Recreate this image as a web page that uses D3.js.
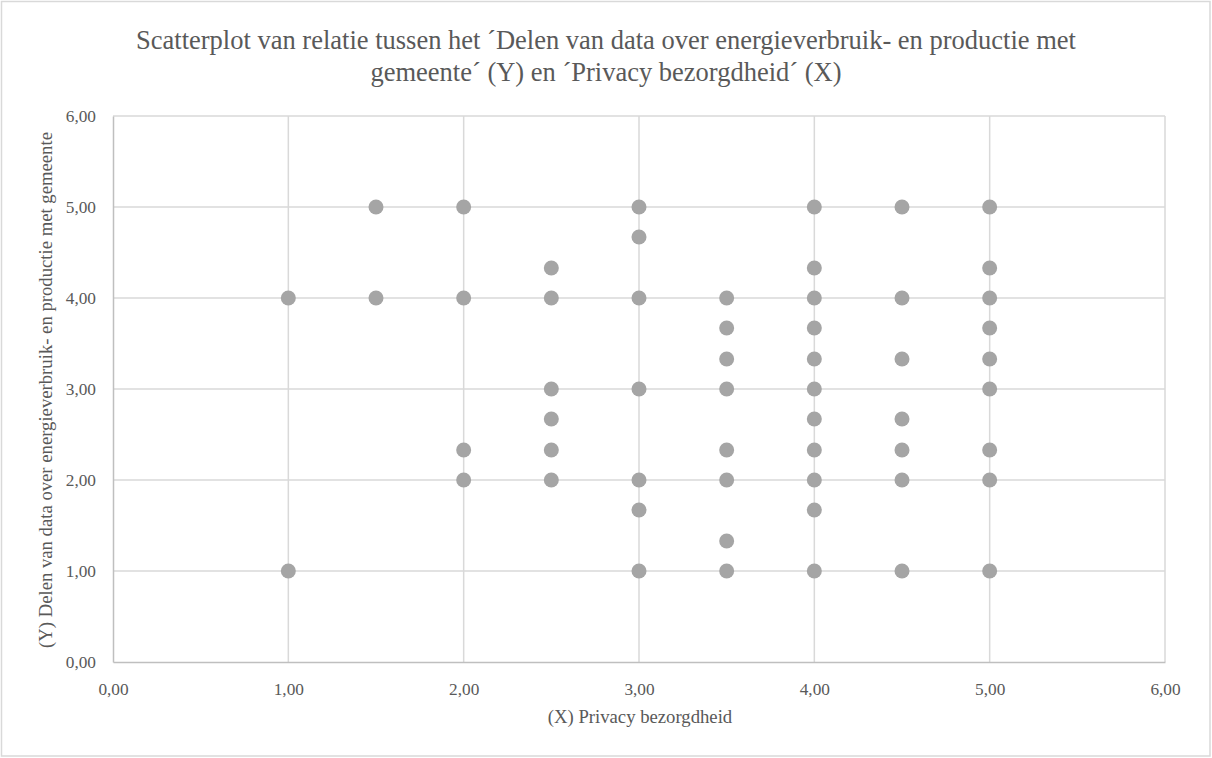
<!DOCTYPE html>
<html><head><meta charset="utf-8">
<script src="https://cdn.jsdelivr.net/npm/d3@7"></script>
<style>body{margin:0;background:#fff}svg{display:block}</style>
</head><body><svg id="c" width="1212" height="758"></svg>
<script>
const xValues = [1,1, 1.5,1.5, 2,2,2,2, 2.5,2.5,2.5,2.5,2.5,2.5, 3,3,3,3,3,3,3, 3.5,3.5,3.5,3.5,3.5,3.5,3.5,3.5, 4,4,4,4,4,4,4,4,4,4,4, 4.5,4.5,4.5,4.5,4.5,4.5,4.5, 5,5,5,5,5,5,5,5,5];
const yValues = [4,1, 5,4, 5,4,2.33,2, 4.33,4,3,2.67,2.33,2, 5,4.67,4,3,2,1.67,1, 4,3.67,3.33,3,2.33,2,1.33,1, 5,4.33,4,3.67,3.33,3,2.67,2.33,2,1.67,1, 5,4,3.33,2.67,2.33,2,1, 5,4.33,4,3.67,3.33,3,2.33,2,1];
const tickValues = [0,1,2,3,4,5,6];
const titleLines = ["Scatterplot van relatie tussen het \u00B4Delen van data over energieverbruik- en productie met", "gemeente\u00B4 (Y) en \u00B4Privacy bezorgdheid\u00B4 (X)"];
const xTitle = "(X) Privacy bezorgdheid";
const yTitle = "(Y) Delen van data over energieverbruik- en productie met gemeente";

const FONT = "'Liberation Serif', 'Times New Roman', 'DejaVu Serif', serif";
const svg = d3.select("#c");
const fmt = d => d3.format(".2f")(d).replace(".", ",");
svg.append("rect").attr("x",1.5).attr("y",1.5).attr("width",1208.5).attr("height",754.5).attr("fill","#fff").attr("stroke","#d9d9d9").attr("stroke-width",1.5);

const x = d3.scaleLinear().domain([0,6]).range([113,1165]);
const y = d3.scaleLinear().domain([0,6]).range([662,116]);

const grid = svg.append("g");
tickValues.filter(t=>t>0).forEach(t=>{
  grid.append("line").attr("x1",x(t)).attr("x2",x(t)).attr("y1",y(0)).attr("y2",y(6)).attr("stroke","#d9d9d9").attr("stroke-width",1.5);
  grid.append("line").attr("x1",x(0)).attr("x2",x(6)).attr("y1",y(t)).attr("y2",y(t)).attr("stroke","#d9d9d9").attr("stroke-width",1.5);
});

const xa = svg.append("g").attr("transform",`translate(0,${y(0)})`).call(d3.axisBottom(x).tickValues(tickValues).tickFormat(fmt).tickSize(0).tickPadding(21));
xa.attr("font-family",null).attr("font-size",null);
xa.select(".domain").attr("stroke","#bfbfbf").attr("stroke-width",1.5);
xa.selectAll("text").style("font-family",FONT).style("font-size","17.3px").attr("fill","#595959");
const ya = svg.append("g").attr("transform",`translate(${x(0)},0)`).call(d3.axisLeft(y).tickValues(tickValues).tickFormat(fmt).tickSize(0).tickPadding(17));
ya.attr("font-family",null).attr("font-size",null);
ya.select(".domain").attr("stroke","#bfbfbf").attr("stroke-width",1.5);
ya.selectAll("text").style("font-family",FONT).style("font-size","17.3px").attr("fill","#595959");

svg.append("g").selectAll("circle").data(xValues.map((v,i)=>[v,yValues[i]])).join("circle")
  .attr("cx",d=>x(d[0])).attr("cy",d=>y(d[1])).attr("r",7.5).attr("fill","#a5a5a5");

titleLines.forEach((t,i)=>svg.append("text").attr("x",606).attr("y",49+i*31.5).attr("text-anchor","middle").style("font-family",FONT).style("font-size","26.5px").attr("fill","#595959").text(t));
svg.append("text").attr("x",640).attr("y",723).attr("text-anchor","middle").style("font-family",FONT).style("font-size","18.7px").attr("fill","#595959").text(xTitle);
svg.append("text").attr("transform","translate(52,390) rotate(-90)").attr("text-anchor","middle").style("font-family",FONT).style("font-size","18.7px").attr("fill","#595959").text(yTitle);
</script></body></html>
